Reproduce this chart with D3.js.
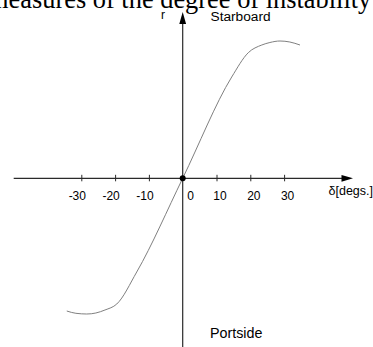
<!DOCTYPE html>
<html>
<head>
<meta charset="utf-8">
<script src="https://cdn.jsdelivr.net/npm/d3@7"></script>
<style>
  html, body { margin: 0; padding: 0; background: #fff; }
  svg { display: block; }
</style>
</head>
<body>
<svg id="chart" width="373" height="347"></svg>
<script>
// ---- data ----
const deltaDeg = [-34.3, -31.6, -28.4, -25.7, -23.0, -19.5, -13.6, 0, 14.5, 19.4, 23.4, 25.8, 28.8, 31.7, 34.7];
const rValues  = [-1.327, -1.35, -1.357, -1.347, -1.317, -1.257, -0.937, 0, 1.013, 1.256, 1.333, 1.358, 1.373, 1.363, 1.333];
const tickValues = [-30, -20, -10, 0, 10, 20, 30];
const tickLabels = ["-30", "-20", "-10", "0", "10", "20", "30"];
const captionText = "measures of the degree of instability";
const xAxisLabel = "δ[degs.]";
const yAxisLabel = "r";
const topLabel = "Starboard";
const bottomLabel = "Portside";

const svg = d3.select("#chart");
const x = d3.scaleLinear().domain([-50, 50]).range([13.7, 351.7]);
const y = d3.scaleLinear().domain([-1.7, 1.7]).range([348.3, 8.3]);
const x0 = x(0), y0 = y(0);
const axisColor = "#2a2a2a";
const sans = "'Liberation Sans', Arial, sans-serif";

// cut-off caption at top (serif)
svg.append("text")
  .attr("x", -12).attr("y", 8)
  .attr("font-family", "'Liberation Serif', 'Times New Roman', serif")
  .attr("font-size", 26.4)
  .attr("fill", "#000")
  .text(captionText);

// x axis line + arrow
svg.append("line")
  .attr("x1", x(-50)).attr("x2", 343)
  .attr("y1", y0).attr("y2", y0)
  .attr("stroke", axisColor).attr("stroke-width", 1.2);
svg.append("path")
  .attr("d", `M${353},${y0} L${341.5},${y0 - 3.4} L${341.5},${y0 + 3.4} Z`)
  .attr("fill", "#000");

// y axis line + arrow
svg.append("line")
  .attr("x1", x0).attr("x2", x0)
  .attr("y1", 347).attr("y2", 22)
  .attr("stroke", axisColor).attr("stroke-width", 1.2);
svg.append("path")
  .attr("d", `M${x0},${12} L${x0 - 3.4},${24} L${x0 + 3.4},${24} Z`)
  .attr("fill", "#000");

// ticks
const ax = d3.axisBottom(x).tickValues(tickValues).tickSize(0)
  .tickFormat((d, i) => tickLabels[i]);
const g = svg.append("g").attr("transform", `translate(0,${y0})`).call(ax);
g.select(".domain").remove();
g.selectAll(".tick line").filter(d => d !== 0)
  .attr("y1", -3.5).attr("y2", 3).attr("stroke", axisColor).attr("stroke-width", 1);
g.selectAll(".tick text")
  .attr("font-family", sans).attr("font-size", 12).attr("fill", "#000")
  .attr("transform", null)
  .attr("x", d => d < 0 ? -4.5 : (d === 0 ? 7.3 : 3))
  .attr("y", 21.5)
  .attr("dy", null);

// curve
const pts = deltaDeg.map((d, i) => [d, rValues[i]]);
svg.append("path")
  .datum(pts)
  .attr("d", d3.line().x(d => x(d[0])).y(d => y(d[1])).curve(d3.curveMonotoneX))
  .attr("fill", "none").attr("stroke", "#808080").attr("stroke-width", 1);

// origin dot
svg.append("circle").attr("cx", x0).attr("cy", y0).attr("r", 3).attr("fill", "#000");

// labels
svg.append("text").attr("x", 328.5).attr("y", 195)
  .attr("font-family", sans).attr("font-size", 12.5).attr("fill", "#000").text(xAxisLabel);
svg.append("text").attr("x", 161).attr("y", 19)
  .attr("font-family", sans).attr("font-size", 12).attr("fill", "#000").text(yAxisLabel);
svg.append("text").attr("x", 210.5).attr("y", 20.5)
  .attr("font-family", sans).attr("font-size", 13.7).attr("fill", "#000").text(topLabel);
svg.append("text").attr("x", 210).attr("y", 338)
  .attr("font-family", sans).attr("font-size", 14.3).attr("fill", "#000").text(bottomLabel);
</script>
</body>
</html>
